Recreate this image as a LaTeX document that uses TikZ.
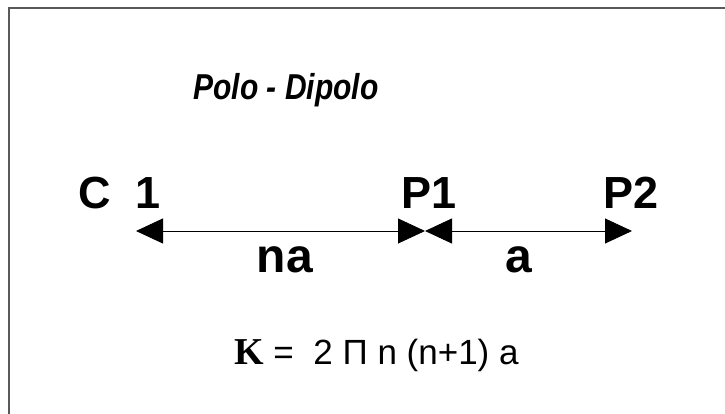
\documentclass[tikz,border=0pt]{standalone}
\usepackage{fontspec}
\setmainfont{Liberation Sans}
\newfontfamily\kserif{Liberation Serif}
\usetikzlibrary{arrows.meta}
\tikzset{
frame/.style={draw=black!65,line width=1.6pt},
dim/.style={draw=black,line width=0.9pt,
  {Triangle[length=27pt,width=25pt]}-{Triangle[length=27pt,width=25pt]}},
lbl/.style={inner sep=0pt,anchor=base west,font=\fontsize{45}{45}\bfseries\selectfont},
title/.style={inner sep=0pt,anchor=base,font=\fontsize{30}{30}\bfseries\itshape\selectfont},
formula/.style={inner sep=0pt,anchor=base west,font=\fontsize{35}{35}\selectfont}
}
\begin{document}
\begin{tikzpicture}[x=1pt,y=-1pt]
\useasboundingbox (0,0) rectangle (725,414);
% the frame
\draw[frame] (725,8) -- (9,8) -- (9,414);
\node[title] (title) at (286,100) {\scalebox{1}[1.2]{Polo - Dipolo}};
\node[lbl] (c1) at (78,208) {C\ \ 1};
\node[lbl] (p1) at (401,208) {P1};
\node[lbl] (p2) at (603,208) {P2};
% the arrows
\coordinate (c1pt) at (136,231);
\coordinate (p1pt) at (425,231);
\coordinate (p2pt) at (632,231);
\draw[dim] (c1pt) -- (p1pt);
\draw[dim] (p1pt) -- (p2pt);
\node[lbl,anchor=base,font=\fontsize{48}{48}\bfseries\selectfont] (na) at (285,272) {na};
\node[lbl,anchor=base,font=\fontsize{48}{48}\bfseries\selectfont] (a) at (519,272) {a};
\node[formula] (k) at (234,364) {{\kserif\bfseries\fontsize{38}{38}\selectfont K} =\ \ 2 Π n (n+1) a};
\end{tikzpicture}
\end{document}
